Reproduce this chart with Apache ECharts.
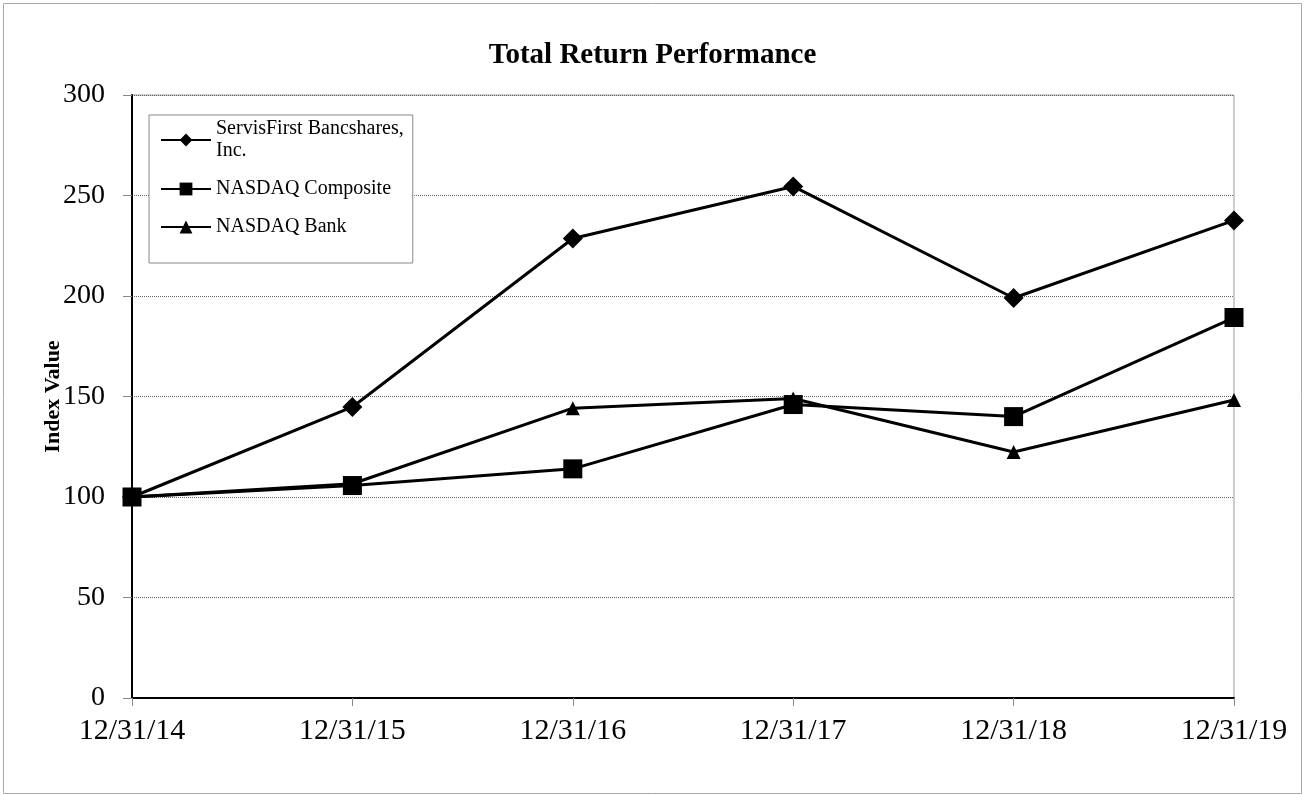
<!DOCTYPE html>
<html lang="en">
<head>
<meta charset="UTF-8">
<title>Total Return Performance</title>
<script src="https://cdn.jsdelivr.net/npm/echarts@6/dist/echarts.min.js"></script>
<style>
  html, body { margin: 0; padding: 0; background: #fff; }
  #main { width: 1305px; height: 795px; }
</style>
</head>
<body>
<div id="main"></div>
<script>
  // data
  let dates = ['12/31/14', '12/31/15', '12/31/16', '12/31/17', '12/31/18', '12/31/19']
  let servisFirst = [100, 144.8, 228.6, 254.5, 199.0, 237.6]
  let nasdaqComposite = [100, 105.7, 114.0, 146.0, 140.0, 189.3]
  let nasdaqBank = [100, 106.6, 144.2, 149.0, 122.4, 148.3]
  let seriesNames = ['ServisFirst Bancshares,\nInc.', 'NASDAQ Composite', 'NASDAQ Bank']

  let serif = '"Liberation Serif", "DejaVu Serif", serif'
  let mycharts = echarts.init(document.getElementById('main'))

  function lineSeries(name, data, symbol, size, z) {
    return {
      name: name,
      type: 'line',
      data: data,
      symbol: symbol,
      symbolSize: size,
      z: z,
      lineStyle: { color: '#000', width: 3 },
      itemStyle: { color: '#000' },
      emphasis: { disabled: true },
      animation: false
    }
  }

  mycharts.setOption({
    backgroundColor: '#fff',
    textStyle: { fontFamily: serif },
    title: {
      text: 'Total Return Performance',
      left: 'center',
      top: 36,
      textStyle: { fontFamily: serif, fontSize: 29, fontWeight: 'bold', color: '#000' }
    },
    graphic: [{
      type: 'rect',
      shape: { x: 3.5, y: 3.5, width: 1298, height: 790 },
      style: { fill: 'none', stroke: '#aaa', lineWidth: 1 },
      silent: true
    }],
    legend: {
      orient: 'vertical',
      left: 149,
      top: 115,
      data: seriesNames,
      itemWidth: 50,
      itemHeight: 16,
      itemGap: 16,
      padding: [3, 9, 25, 11],
      backgroundColor: '#fff',
      borderColor: '#888',
      borderWidth: 1,
      borderRadius: 0,
      z: 10,
      textStyle: { fontFamily: serif, fontSize: 20, color: '#000', lineHeight: 22 }
    },
    grid: {
      left: 132,
      right: 71,
      top: 95,
      bottom: 97,
      show: true,
      borderColor: '#999',
      borderWidth: 1
    },
    xAxis: {
      type: 'category',
      data: dates,
      boundaryGap: false,
      axisLine: { lineStyle: { color: '#000', width: 2 } },
      axisTick: { show: true, length: 8, alignWithLabel: true, lineStyle: { color: '#888' } },
      axisLabel: { fontFamily: serif, fontSize: 30, color: '#000', margin: 18 },
      splitLine: { show: false }
    },
    yAxis: {
      type: 'value',
      min: 0,
      max: 300,
      interval: 50,
      name: 'Index Value',
      nameLocation: 'middle',
      nameGap: 68,
      nameMoveOverlap: false,
      nameTextStyle: { fontFamily: serif, fontSize: 22, fontWeight: 'bold', color: '#000' },
      axisLine: { show: true, lineStyle: { color: '#000', width: 2 } },
      axisTick: { show: true, length: 9, lineStyle: { color: '#888' } },
      axisLabel: { fontFamily: serif, fontSize: 28, color: '#000', margin: 27 },
      splitLine: { show: true, lineStyle: { color: '#666', type: 'dotted', width: 1 } }
    },
    series: [
      lineSeries(seriesNames[0], servisFirst, 'diamond', 20, 4),
      lineSeries(seriesNames[2], nasdaqBank, 'triangle', 14, 2),
      lineSeries(seriesNames[1], nasdaqComposite, 'rect', 19, 3)
    ]
  })
</script>
</body>
</html>
